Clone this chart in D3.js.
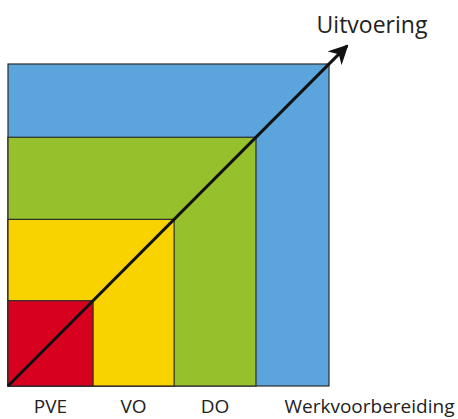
<!DOCTYPE html>
<html>
<head>
<meta charset="utf-8">
<script src="https://cdn.jsdelivr.net/npm/d3@7"></script>
<style>
  body { margin: 0; background: #fff; }
  text { font-family: "Open Sans", sans-serif; fill: #222; }
</style>
</head>
<body>
<svg id="chart" width="458" height="419"></svg>
<script>

// phases, from the inner square outwards
var phases = ["PVE", "VO", "DO", "Werkvoorbereiding"];
var phaseExtent = [1.06, 2.07, 3.09, 4];   // cumulative size of each square
var phaseColors = ["#d7001e", "#f9d300", "#96c12c", "#5ba5dc"];
var arrowLabel = "Uitvoering";
var arrowEnd = 4.25;

var svg = d3.select("#chart");

var x = d3.scaleLinear().domain([0, 4]).range([8, 329]);
var y = d3.scaleLinear().domain([0, 4]).range([386, 64]);

var data = phases.map(function(p, i) {
    return { name: p, extent: phaseExtent[i], start: i === 0 ? 0 : phaseExtent[i - 1], color: phaseColors[i] };
});

// biggest square first so the smaller ones sit on top
svg.append("g")
    .selectAll("rect")
    .data(data.slice().reverse())
    .join("rect")
    .attr("x", x(0))
    .attr("y", function(d) { return y(d.extent); })
    .attr("width", function(d) { return x(d.extent) - x(0); })
    .attr("height", function(d) { return y(0) - y(d.extent); })
    .attr("fill", function(d) { return d.color; })
    .attr("stroke", "#2b2b2b")
    .attr("stroke-width", 1.2);

var defs = svg.append("defs");
defs.append("marker")
    .attr("id", "head")
    .attr("viewBox", "0 0 10 10")
    .attr("refX", 9)
    .attr("refY", 5)
    .attr("markerWidth", 6.5)
    .attr("markerHeight", 6.5)
    .attr("markerUnits", "strokeWidth")
    .attr("orient", "auto")
    .append("path")
    .attr("d", "M0,0 L10,5 L0,10 L3,5 Z")
    .attr("fill", "#111");

svg.append("line")
    .attr("x1", x(0))
    .attr("y1", y(0))
    .attr("x2", x(arrowEnd) - 2)
    .attr("y2", y(arrowEnd) + 2)
    .attr("stroke", "#111")
    .attr("stroke-width", 3)
    .attr("marker-end", "url(#head)");

svg.append("text")
    .attr("x", 372)
    .attr("y", 33)
    .attr("text-anchor", "middle")
    .attr("font-size", 23)
    .text(arrowLabel);

svg.append("g")
    .selectAll("text")
    .data(data)
    .join("text")
    .attr("x", function(d, i) {
        var c = (x(d.start) + x(d.extent)) / 2;
        return i === data.length - 1 ? c + 77 : c;
    })
    .attr("y", 413)
    .attr("text-anchor", "middle")
    .attr("font-size", 19)
    .text(function(d) { return d.name; });

</script>
</body>
</html>
